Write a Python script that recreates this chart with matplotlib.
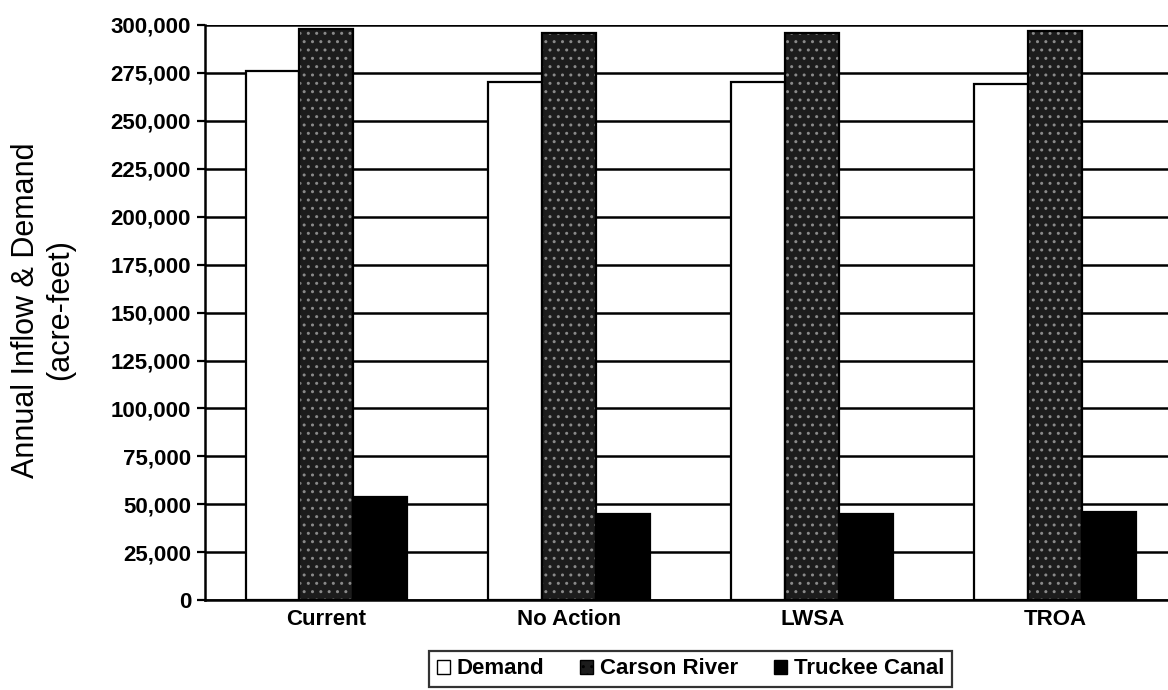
import numpy as np
import matplotlib
matplotlib.use("Agg")
import matplotlib.pyplot as plt
from matplotlib.patches import Patch
from matplotlib.ticker import FuncFormatter

plt.rcParams['font.family'] = ['Liberation Sans', 'DejaVu Sans']

scenarios = ["Current", "No Action", "LWSA", "TROA"]
demand = [276000, 270000, 270000, 269000]
carson = [298000, 296000, 296000, 297000]
truckee = [54000, 45000, 45000, 46000]

fig = plt.figure(figsize=(11.68, 6.90), dpi=100)
# plot area runs slightly past the right edge, as in the cropped scan
ax = fig.add_axes([0.1755, 0.130, 0.832, 0.834])

x = np.arange(len(scenarios))
w = 0.222

ax.bar(x - w, demand, w, color="white", edgecolor="black", linewidth=1.6, zorder=3)
ax.bar(x, carson, w, color="#1c1c1c", edgecolor="#8a8a8a", hatch="..", linewidth=0, zorder=3)
ax.bar(x, carson, w, color="none", edgecolor="black", linewidth=1.6, zorder=4)
ax.bar(x + w, truckee, w, color="black", edgecolor="black", linewidth=1.6, zorder=3)

ax.set_ylim(0, 300000)
ax.set_xlim(-0.5, 3.5)
ax.set_yticks(np.arange(0, 300001, 25000))
ax.yaxis.set_major_formatter(FuncFormatter(lambda v, p: "{:,.0f}".format(v)))
ax.yaxis.grid(True, color="black", linewidth=1.8, zorder=0)
ax.set_axisbelow(True)

ax.set_xticks(x)
ax.set_xticklabels(scenarios, fontsize=16, fontweight="bold")
ax.tick_params(axis="x", length=0, pad=6)
ax.tick_params(axis="y", direction="out", length=6, width=1.6, labelsize=16, pad=4)
for lab in ax.get_yticklabels():
    lab.set_fontweight("bold")

for s in ["top", "right"]:
    ax.spines[s].set_visible(False)
ax.spines["left"].set_linewidth(1.8)
ax.spines["bottom"].set_linewidth(1.8)

fig.text(43 / 1168, 1 - 310 / 690, "Annual Inflow & Demand\n(acre-feet)",
         rotation=90, ha="center", va="center", multialignment="center",
         fontsize=22, linespacing=1.15)

handles = [
    Patch(facecolor="white", edgecolor="black", label="Demand"),
    Patch(facecolor="#1c1c1c", edgecolor="black", hatch="..", label="Carson River"),
    Patch(facecolor="black", edgecolor="black", label="Truckee Canal"),
]
leg = fig.legend(handles=handles, loc="upper center", bbox_to_anchor=(0.591, 0.057),
                 ncol=3, frameon=True, fancybox=False, edgecolor="black",
                 prop={"weight": "bold", "size": 16}, handlelength=0.6, handleheight=0.6,
                 handletextpad=0.3, columnspacing=1.6, borderpad=0.35,
                 borderaxespad=0)
leg.get_frame().set_linewidth(1.6)

fig.savefig("out.png", dpi=100)
